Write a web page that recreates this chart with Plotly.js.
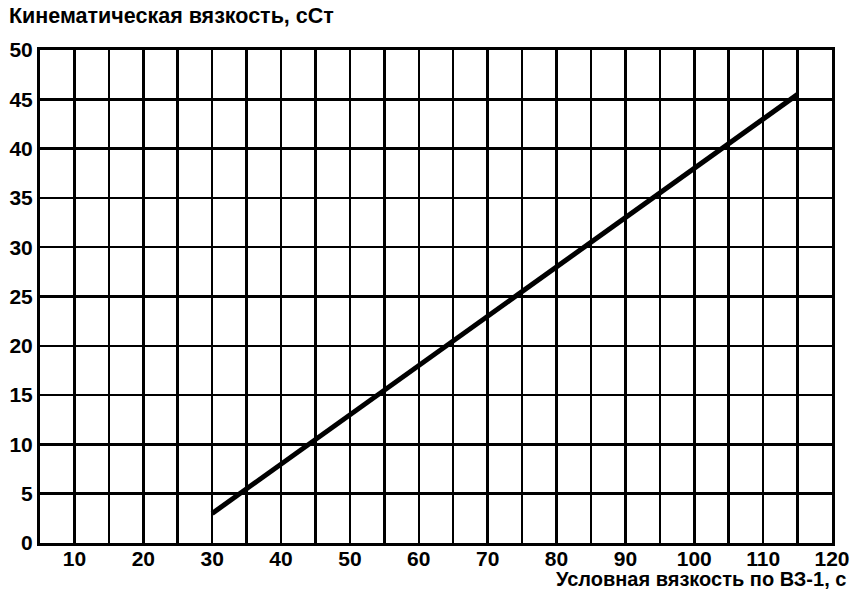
<!DOCTYPE html>
<html>
<head>
<meta charset="utf-8">
<script src="https://cdn.plot.ly/plotly-3.0.1.min.js"></script>
<style>html,body{margin:0;padding:0;background:#fff;}#chart{width:851px;height:592px;}</style>
</head>
<body>
<div id="chart"></div>
<script>
// Data
const conditionalViscosity = [30, 115];        // Условная вязкость по ВЗ-1, с
const kinematicViscosity = [3, 45.5];          // Кинематическая вязкость, сСт
const xTickValues = [10, 20, 30, 40, 50, 60, 70, 80, 90, 100, 110, 120];
const yTickValues = [0, 5, 10, 15, 20, 25, 30, 35, 40, 45, 50];
const yAxisTitle = "Кинематическая вязкость, сСт";
const xAxisTitle = "Условная вязкость по ВЗ-1, с";

const FAMILY = "Liberation Sans, Arial, sans-serif";
const tickFont = {family: FAMILY, size: 21, color: "#000", weight: "bold"};
const bold = v => "<b>" + v + "</b>";

const trace = {
  x: conditionalViscosity,
  y: kinematicViscosity,
  type: "scatter",
  mode: "lines",
  line: {color: "#000", width: 5},
  hoverinfo: "skip",
  showlegend: false
};

const layout = {
  width: 851,
  height: 592,
  paper_bgcolor: "#fff",
  plot_bgcolor: "#fff",
  margin: {l: 40, r: 19, t: 50, b: 49},
  font: {family: FAMILY, color: "#000"},
  title: {
    text: bold(yAxisTitle),
    xref: "container", yref: "container",
    x: 9 / 851, xanchor: "left",
    y: 1 - 15 / 592, yanchor: "middle",
    font: {family: FAMILY, size: 21.5, color: "#000"}
  },
  xaxis: {
    range: [5, 120],
    tickvals: xTickValues,
    ticktext: xTickValues.map(bold),
    ticks: "", ticklen: 0,
    showgrid: true, gridcolor: "#000", gridwidth: 2.5,
    minor: {dtick: 5, tick0: 0, showgrid: true, gridcolor: "#000", gridwidth: 2.5, ticks: ""},
    showline: true, linecolor: "#000", linewidth: 3, mirror: true,
    zeroline: false,
    tickfont: tickFont,
    ticklabelstandoff: -5,
    fixedrange: true
  },
  yaxis: {
    range: [0, 50],
    tickvals: yTickValues,
    ticktext: yTickValues.map(bold),
    ticks: "", ticklen: 0,
    showgrid: true, gridcolor: "#000", gridwidth: 2.5,
    showline: true, linecolor: "#000", linewidth: 3, mirror: true,
    zeroline: false,
    tickfont: tickFont,
    ticklabelstandoff: 0,
    fixedrange: true
  },
  annotations: [{
    text: bold(xAxisTitle),
    xref: "paper", yref: "paper",
    x: 1 + 16 / 792, xanchor: "right",
    y: -36 / 493, yanchor: "middle",
    showarrow: false,
    font: {family: FAMILY, size: 20, color: "#000"}
  }]
};

Plotly.newPlot("chart", [trace], layout, {displayModeBar: false, staticPlot: true});
</script>
</body>
</html>
